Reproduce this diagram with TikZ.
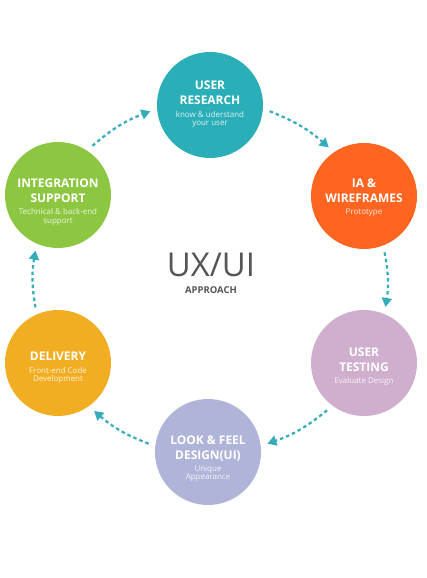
\documentclass[tikz,border=0pt]{standalone}
\usepackage{fontspec}
\setmainfont{Open Sans}
\usepackage{tikz}
\usetikzlibrary{arrows.meta,positioning}

\definecolor{flowcol}{rgb}{0.204,0.675,0.725}
\definecolor{uxgray}{rgb}{0.333,0.333,0.333}

\begin{document}
\begin{tikzpicture}[>={Triangle[length=9bp,width=10bp]},line join=bevel,
  phase/.style={circle,minimum size=106bp,inner sep=0pt,outer sep=7bp},
  headline/.style={anchor=south,align=center,inner sep=0pt,text depth=0pt,text=white,font=\fontsize{12}{15}\selectfont\bfseries},
  subline/.style={align=center,inner sep=0pt,text=white,text opacity=0.85,font=\fontsize{8}{8.4}\selectfont},
  flow/.style={->,flowcol,line width=2.2bp,dash pattern=on 3.5bp off 3bp}]
\useasboundingbox (0bp,0bp) rectangle (427bp,578bp);

% Node: research
\begin{scope}
  \definecolor{fillcol}{rgb}{0.165,0.686,0.722}
  \node (research) at (210bp,473bp) [phase,fill=fillcol] {};
  \node (research-t) at (research.center) [headline] {USER\\RESEARCH};
  \node (research-s) [subline,below=6bp of research-t] {know \& uderstand\\your user};
\end{scope}

% Node: ia
\begin{scope}
  \definecolor{fillcol}{rgb}{0.996,0.396,0.125}
  \node (ia) at (364bp,382bp) [phase,fill=fillcol] {};
  \node (ia-t) at ([yshift=-6.7bp]ia.center) [headline] {IA \&\\WIREFRAMES};
  \node (ia-s) [subline,below=6bp of ia-t] {Prototype};
\end{scope}

% Node: testing
\begin{scope}
  \definecolor{fillcol}{rgb}{0.816,0.682,0.808}
  \node (testing) at (364bp,215bp) [phase,fill=fillcol] {};
  \node (testing-t) at ([yshift=-8.7bp]testing.center) [headline] {USER\\TESTING};
  \node (testing-s) [subline,below=6bp of testing-t] {Evaluate Design};
\end{scope}

% Node: lookfeel
\begin{scope}
  \definecolor{fillcol}{rgb}{0.694,0.706,0.851}
  \node (lookfeel) at (208bp,126bp) [phase,fill=fillcol] {};
  \node (lookfeel-t) at ([yshift=-7.3bp]lookfeel.center) [headline] {LOOK \& FEEL\\DESIGN(UI)};
  \node (lookfeel-s) [subline,below=6bp of lookfeel-t] {Unique\\Appearance};
\end{scope}

% Node: delivery
\begin{scope}
  \definecolor{fillcol}{rgb}{0.949,0.682,0.133}
  \node (delivery) at (58bp,215bp) [phase,fill=fillcol] {};
  \node (delivery-t) at ([yshift=2bp]delivery.center) [headline] {DELIVERY};
  \node (delivery-s) [subline,below=6bp of delivery-t] {Front-end Code\\Development};
\end{scope}

% Node: integration
\begin{scope}
  \definecolor{fillcol}{rgb}{0.553,0.776,0.255}
  \node (integration) at (58bp,383bp) [phase,fill=fillcol] {};
  \node (integration-t) at ([yshift=-7.7bp]integration.center) [headline] {INTEGRATION\\SUPPORT};
  \node (integration-s) [subline,below=6bp of integration-t] {Technical \& back-end\\support};
\end{scope}

% Node: uxui
\node (uxui) at (211bp,301bp) [anchor=base,inner sep=0pt,text=uxgray,font=\fontsize{33}{36}\selectfont] {UX/UI};
\node (approach) at (211bp,284.7bp) [anchor=base,inner sep=0pt,text=uxgray,font=\fontsize{9.5}{10}\selectfont\bfseries] {APPROACH};

% Edge: research -> ia
\draw [flow] (research.-6) to[bend left=10] (ia.126);

% Edge: ia -> testing
\draw [flow] (ia.-70) to[bend left=10] (testing.69);

% Edge: testing -> lookfeel
\draw [flow] (testing.-128) to[bend left=10] (lookfeel.8);

% Edge: lookfeel -> delivery
\draw [flow] (lookfeel.172) to[bend left=10] (delivery.-53);

% Edge: delivery -> integration
\draw [flow] (delivery.112) to[bend left=10] (integration.-112);

% Edge: integration -> research
\draw [flow] (integration.55) to[bend left=10] (research.-174);

\end{tikzpicture}
\end{document}
